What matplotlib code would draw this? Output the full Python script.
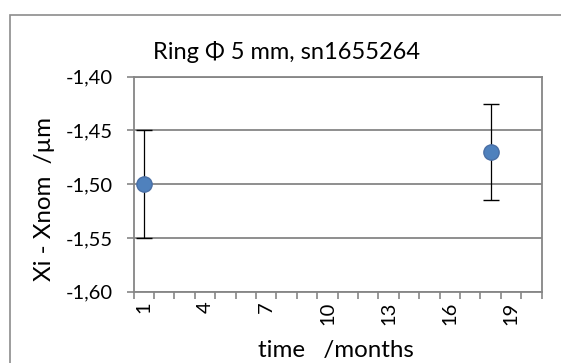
import matplotlib
matplotlib.use("Agg")
import matplotlib.pyplot as plt
from matplotlib.patches import Rectangle
from matplotlib.ticker import FixedLocator, FuncFormatter

plt.rcParams['font.family'] = ['Lato', 'DejaVu Sans']

# Data
months = [1, 18]
values = [-1.50, -1.47]
errors = [0.05, 0.045]
n_categories = 20
label_cats = [1, 4, 7, 10, 13, 16, 19]
yticks = [-1.60, -1.55, -1.50, -1.45, -1.40]
title = "Ring \u03a6 5 mm, sn1655264"
xlabel = "time   /months"
ylabel = "Xi - Xnom  /\u00b5m"

W, H = 561, 363
fig = plt.figure(figsize=(W / 100, H / 100), dpi=100)

# outer chart frame
fig.patches.append(Rectangle((10 / W, -0.1), 1.2, (H - 15) / H + 0.1,
                             transform=fig.transFigure, fill=False,
                             edgecolor='#8c8c8c', linewidth=1.2))

l, r, t, b = 133.5, 541.7, 76.7, 291.7
ax = fig.add_axes([l / W, 1 - b / H, (r - l) / W, (b - t) / H])

gray = '#868686'
ax.set_xlim(0.5, n_categories + 0.5)
ax.set_ylim(-1.60, -1.40)

ax.set_yticks(yticks)
ax.yaxis.set_major_formatter(FuncFormatter(lambda v, p: f"{v:.2f}".replace('.', ',')))
ax.grid(axis='y', color=gray, linewidth=1.3)
ax.set_axisbelow(True)

ax.set_xticks(label_cats)
ax.set_xticklabels([str(c) for c in label_cats], rotation=90)
ax.xaxis.set_minor_locator(FixedLocator([i + 0.5 for i in range(n_categories + 1)]))
ax.tick_params(axis='x', which='major', length=0, pad=7, labelsize=14.5)
ax.tick_params(axis='x', which='minor', length=5, width=1.2, color=gray)
ax.tick_params(axis='y', which='major', length=5, width=1.2, color=gray, labelsize=14.5, pad=10)

for s in ax.spines.values():
    s.set_color(gray)
    s.set_linewidth(1.3)

ax.errorbar(months, values, yerr=errors, fmt='o', color='black', ecolor='black',
            elinewidth=0.9, capsize=6, capthick=0.9,
            markerfacecolor='#4F81BD', markeredgecolor='#4A6FA5', markersize=11,
            markeredgewidth=1.0, zorder=3)

fig.text(286.7 / W, 1 - 59 / H, title, ha='center', va='baseline', fontsize=17)
fig.text(336 / W, 1 - 357 / H, xlabel, ha='center', va='baseline', fontsize=17.4)
fig.text(45 / W, 1 - 199 / H, ylabel, ha='center', va='center', rotation=90, fontsize=17.4)

fig.savefig('out.png', dpi=100)
